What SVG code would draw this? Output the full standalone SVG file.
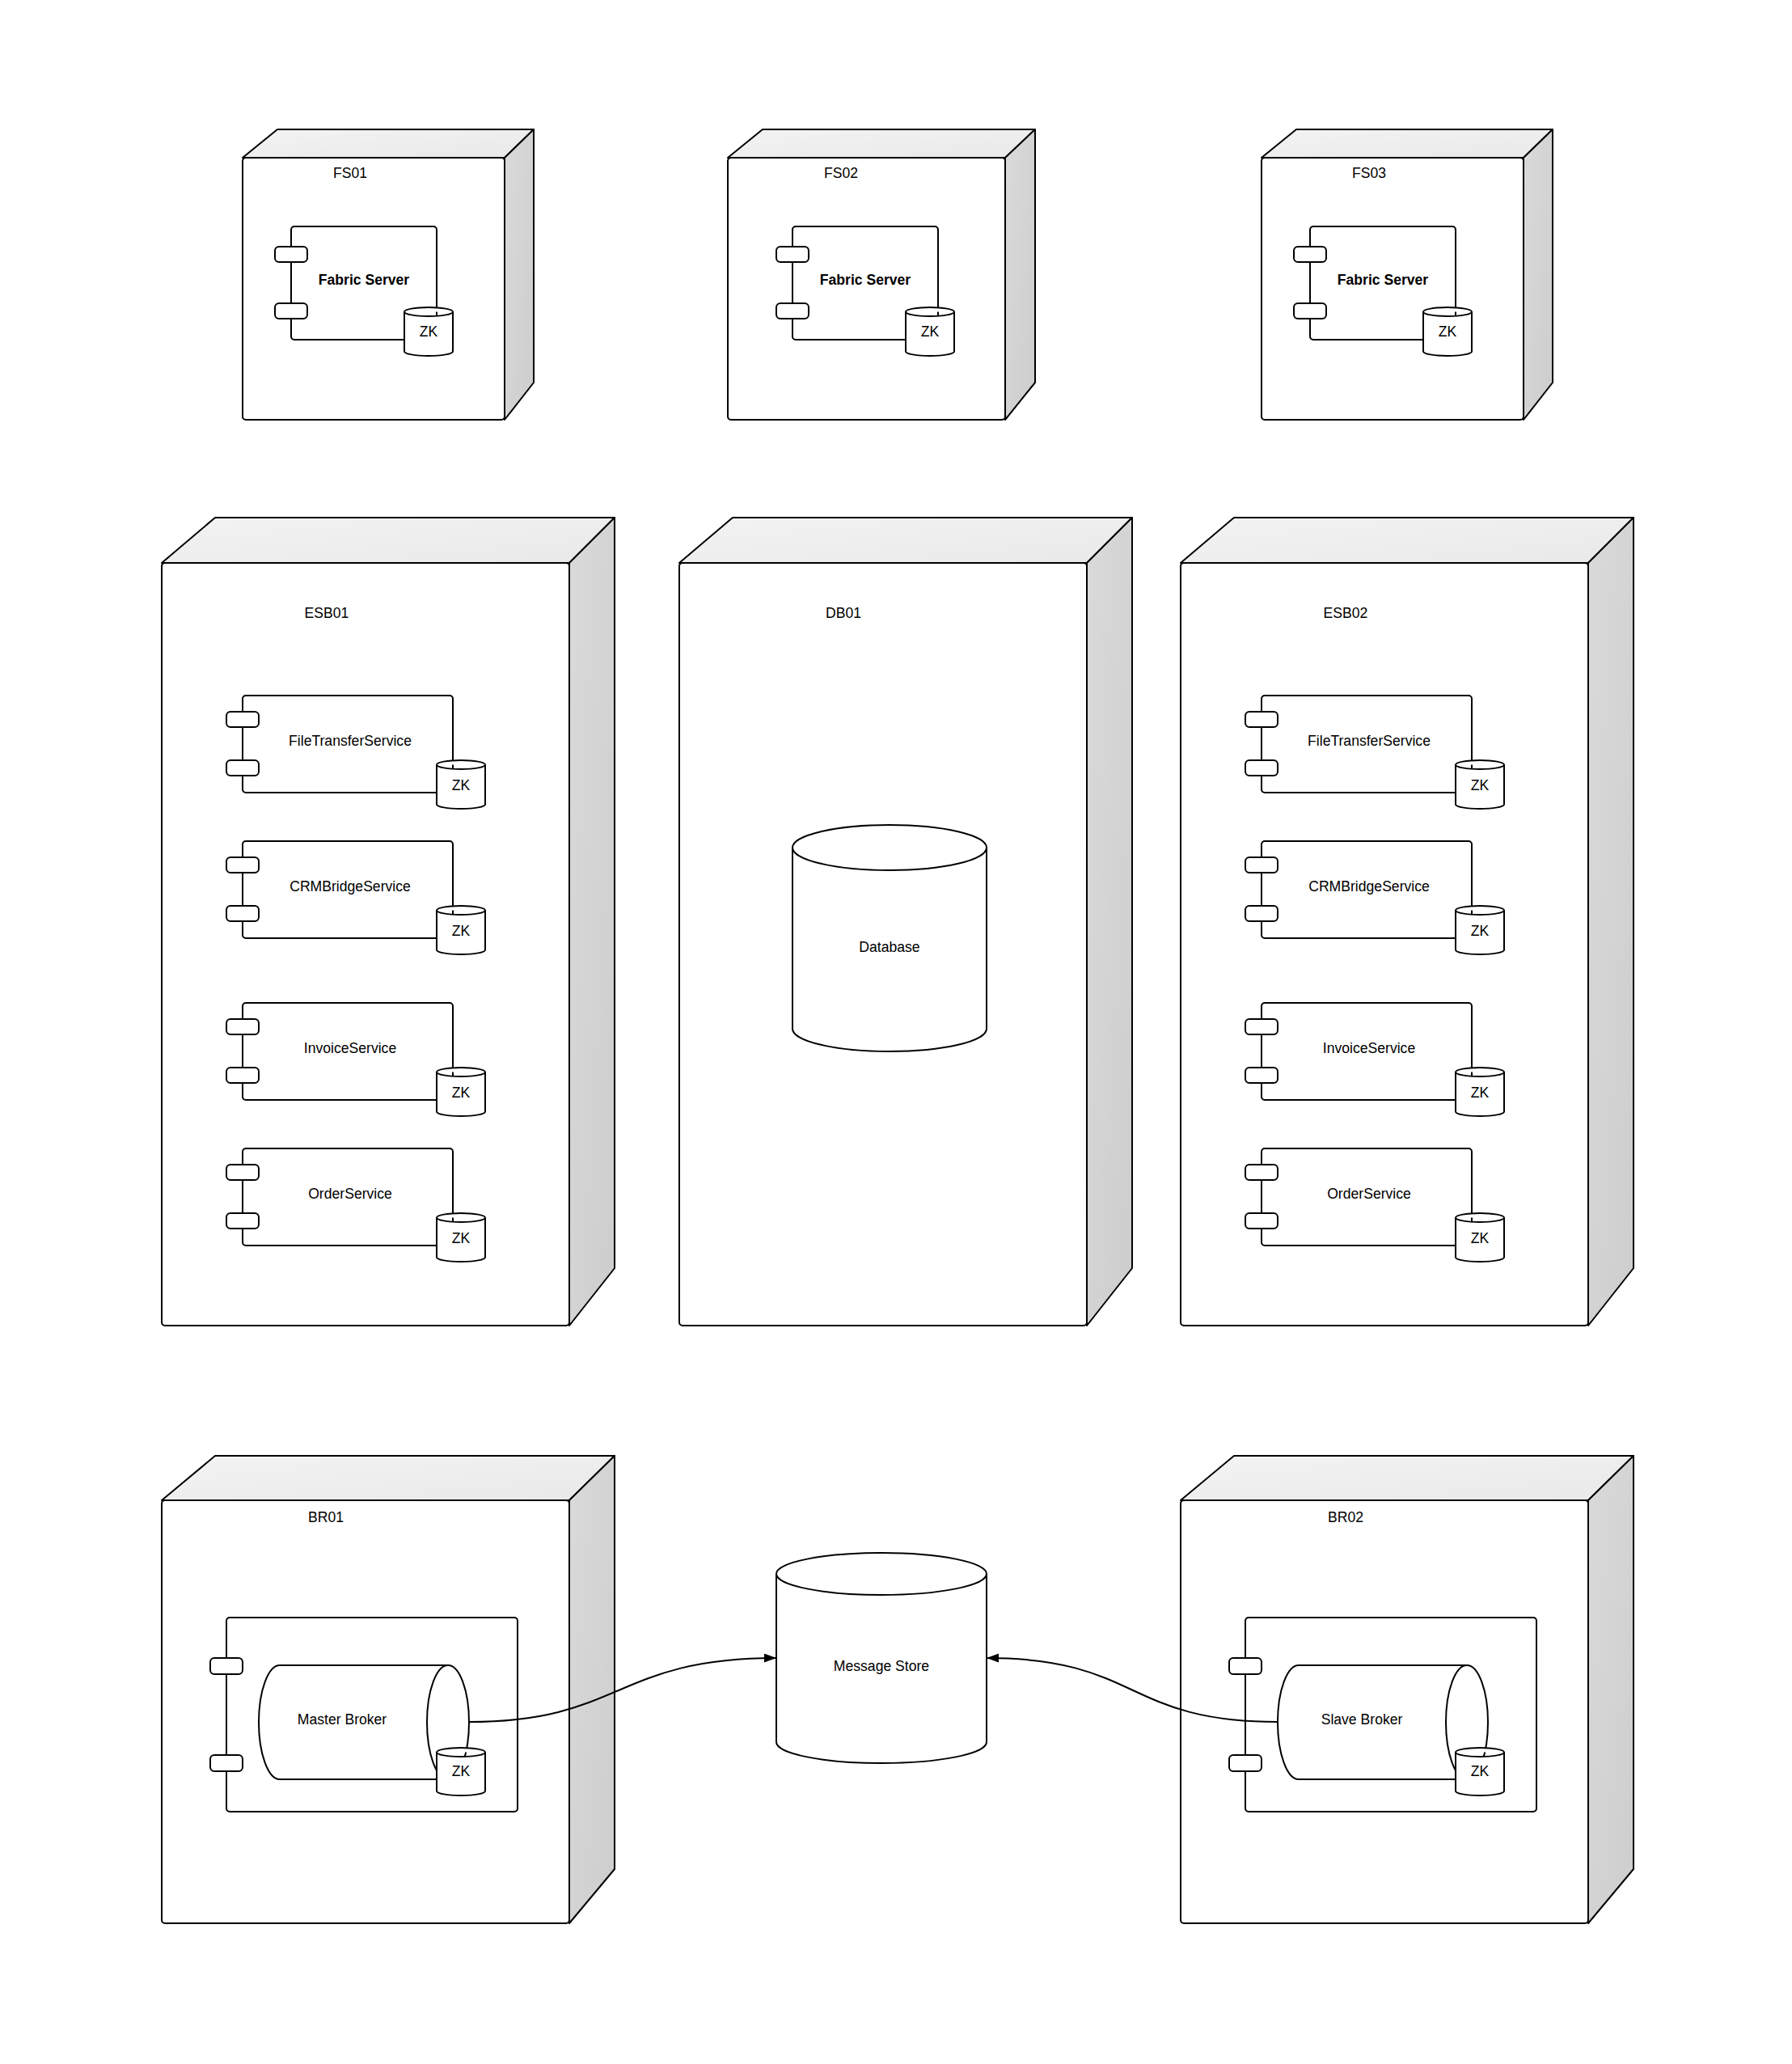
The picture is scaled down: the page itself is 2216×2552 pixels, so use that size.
<svg xmlns="http://www.w3.org/2000/svg" width="2216" height="2552" viewBox="0 0 2216 2552">
<defs>
<linearGradient id="gTop" x1="0" y1="0" x2="1" y2="1"><stop offset="0" stop-color="#f3f3f3"/><stop offset="1" stop-color="#e9e9e9"/></linearGradient>
<linearGradient id="gSide" x1="0" y1="0" x2="1" y2="1"><stop offset="0" stop-color="#dadada"/><stop offset="1" stop-color="#cdcdcd"/></linearGradient>
<marker id="arr" markerUnits="userSpaceOnUse" markerWidth="16" markerHeight="12" refX="15" refY="5.5" orient="auto"><path d="M0,0 L15,5.5 L0,11 Z" fill="#000"/></marker>
<style>
.top{fill:url(#gTop);stroke:#000;stroke-width:2;stroke-linejoin:round}
.side{fill:url(#gSide);stroke:#000;stroke-width:2;stroke-linejoin:round}
.front{fill:#fff;stroke:#000;stroke-width:2}
.comp{fill:#fff;stroke:#000;stroke-width:2}
.port{fill:#fff;stroke:#000;stroke-width:2}
.cyl{fill:#fff;stroke:#000;stroke-width:2}
.edge{fill:none;stroke:#000;stroke-width:2}
text{font-family:"Liberation Sans",Arial,sans-serif;font-size:17.6px;fill:#000;text-anchor:middle}
.b{font-weight:bold}
</style>
</defs>
<rect width="2216" height="2552" fill="#fff"/>

<!-- FS01 -->
<g id="FS01">
<polygon class="top" points="300,195 343,160 660,160 624,195"/>
<polygon class="side" points="624,195 660,160 660,473 624,519"/>
<rect class="front" x="300" y="195" width="324" height="324" rx="4"/>
<text x="433" y="220">FS01</text>
<rect class="comp" x="360" y="280" width="180" height="140" rx="4"/>
<rect class="port" x="340" y="305" width="40" height="19" rx="5"/>
<rect class="port" x="340" y="375" width="40" height="19" rx="5"/>
<text class="b" x="450" y="352">Fabric Server</text>
<path class="cyl" d="M500,385.5 A30,5.5 0 0 1 560,385.5 L560,434.5 A30,5.5 0 0 1 500,434.5 Z M500,385.5 A30,5.5 0 0 0 560,385.5"/>
<text x="530" y="416">ZK</text>
</g>

<!-- FS02 -->
<g id="FS02">
<polygon class="top" points="900,195 943,160 1280,160 1243,195"/>
<polygon class="side" points="1243,195 1280,160 1280,473 1243,519"/>
<rect class="front" x="900" y="195" width="343" height="324" rx="4"/>
<text x="1040" y="220">FS02</text>
<rect class="comp" x="980" y="280" width="180" height="140" rx="4"/>
<rect class="port" x="960" y="305" width="40" height="19" rx="5"/>
<rect class="port" x="960" y="375" width="40" height="19" rx="5"/>
<text class="b" x="1070" y="352">Fabric Server</text>
<path class="cyl" d="M1120,385.5 A30,5.5 0 0 1 1180,385.5 L1180,434.5 A30,5.5 0 0 1 1120,434.5 Z M1120,385.5 A30,5.5 0 0 0 1180,385.5"/>
<text x="1150" y="416">ZK</text>
</g>

<!-- FS03 -->
<g id="FS03">
<polygon class="top" points="1560,195 1603,160 1920,160 1884,195"/>
<polygon class="side" points="1884,195 1920,160 1920,473 1884,519"/>
<rect class="front" x="1560" y="195" width="324" height="324" rx="4"/>
<text x="1693" y="220">FS03</text>
<rect class="comp" x="1620" y="280" width="180" height="140" rx="4"/>
<rect class="port" x="1600" y="305" width="40" height="19" rx="5"/>
<rect class="port" x="1600" y="375" width="40" height="19" rx="5"/>
<text class="b" x="1710" y="352">Fabric Server</text>
<path class="cyl" d="M1760,385.5 A30,5.5 0 0 1 1820,385.5 L1820,434.5 A30,5.5 0 0 1 1760,434.5 Z M1760,385.5 A30,5.5 0 0 0 1820,385.5"/>
<text x="1790" y="416">ZK</text>
</g>

<!-- ESB01 -->
<g id="ESB01">
<polygon class="top" points="200,696 266,640 760,640 704,696"/>
<polygon class="side" points="704,696 760,640 760,1568 704,1639"/>
<rect class="front" x="200" y="696" width="504" height="943" rx="4"/>
<text x="404" y="764">ESB01</text>
<g id="ESB01-FileTransferService">
<rect class="comp" x="300" y="860" width="260" height="120" rx="4"/>
<rect class="port" x="280" y="880" width="40" height="19" rx="5"/>
<rect class="port" x="280" y="940" width="40" height="19" rx="5"/>
<text x="433" y="922">FileTransferService</text>
<path class="cyl" d="M540,945.5 A30,5.5 0 0 1 600,945.5 L600,994.5 A30,5.5 0 0 1 540,994.5 Z M540,945.5 A30,5.5 0 0 0 600,945.5"/>
<text x="570" y="977">ZK</text>
</g>
<g id="ESB01-CRMBridgeService">
<rect class="comp" x="300" y="1040" width="260" height="120" rx="4"/>
<rect class="port" x="280" y="1060" width="40" height="19" rx="5"/>
<rect class="port" x="280" y="1120" width="40" height="19" rx="5"/>
<text x="433" y="1102">CRMBridgeService</text>
<path class="cyl" d="M540,1125.5 A30,5.5 0 0 1 600,1125.5 L600,1174.5 A30,5.5 0 0 1 540,1174.5 Z M540,1125.5 A30,5.5 0 0 0 600,1125.5"/>
<text x="570" y="1157">ZK</text>
</g>
<g id="ESB01-InvoiceService">
<rect class="comp" x="300" y="1240" width="260" height="120" rx="4"/>
<rect class="port" x="280" y="1260" width="40" height="19" rx="5"/>
<rect class="port" x="280" y="1320" width="40" height="19" rx="5"/>
<text x="433" y="1302">InvoiceService</text>
<path class="cyl" d="M540,1325.5 A30,5.5 0 0 1 600,1325.5 L600,1374.5 A30,5.5 0 0 1 540,1374.5 Z M540,1325.5 A30,5.5 0 0 0 600,1325.5"/>
<text x="570" y="1357">ZK</text>
</g>
<g id="ESB01-OrderService">
<rect class="comp" x="300" y="1420" width="260" height="120" rx="4"/>
<rect class="port" x="280" y="1440" width="40" height="19" rx="5"/>
<rect class="port" x="280" y="1500" width="40" height="19" rx="5"/>
<text x="433" y="1482">OrderService</text>
<path class="cyl" d="M540,1505.5 A30,5.5 0 0 1 600,1505.5 L600,1554.5 A30,5.5 0 0 1 540,1554.5 Z M540,1505.5 A30,5.5 0 0 0 600,1505.5"/>
<text x="570" y="1537">ZK</text>
</g>
</g>

<!-- DB01 -->
<g id="DB01">
<polygon class="top" points="840,696 906,640 1400,640 1344,696"/>
<polygon class="side" points="1344,696 1400,640 1400,1568 1344,1639"/>
<rect class="front" x="840" y="696" width="504" height="943" rx="4"/>
<text x="1043" y="764">DB01</text>
<g id="Database">
<path class="cyl" d="M980,1048 A120,28 0 0 1 1220,1048 L1220,1272 A120,28 0 0 1 980,1272 Z M980,1048 A120,28 0 0 0 1220,1048"/>
<text x="1100" y="1177">Database</text>
</g>
</g>

<!-- ESB02 -->
<g id="ESB02">
<polygon class="top" points="1460,696 1526,640 2020,640 1964,696"/>
<polygon class="side" points="1964,696 2020,640 2020,1568 1964,1639"/>
<rect class="front" x="1460" y="696" width="504" height="943" rx="4"/>
<text x="1664" y="764">ESB02</text>
<g id="ESB02-FileTransferService">
<rect class="comp" x="1560" y="860" width="260" height="120" rx="4"/>
<rect class="port" x="1540" y="880" width="40" height="19" rx="5"/>
<rect class="port" x="1540" y="940" width="40" height="19" rx="5"/>
<text x="1693" y="922">FileTransferService</text>
<path class="cyl" d="M1800,945.5 A30,5.5 0 0 1 1860,945.5 L1860,994.5 A30,5.5 0 0 1 1800,994.5 Z M1800,945.5 A30,5.5 0 0 0 1860,945.5"/>
<text x="1830" y="977">ZK</text>
</g>
<g id="ESB02-CRMBridgeService">
<rect class="comp" x="1560" y="1040" width="260" height="120" rx="4"/>
<rect class="port" x="1540" y="1060" width="40" height="19" rx="5"/>
<rect class="port" x="1540" y="1120" width="40" height="19" rx="5"/>
<text x="1693" y="1102">CRMBridgeService</text>
<path class="cyl" d="M1800,1125.5 A30,5.5 0 0 1 1860,1125.5 L1860,1174.5 A30,5.5 0 0 1 1800,1174.5 Z M1800,1125.5 A30,5.5 0 0 0 1860,1125.5"/>
<text x="1830" y="1157">ZK</text>
</g>
<g id="ESB02-InvoiceService">
<rect class="comp" x="1560" y="1240" width="260" height="120" rx="4"/>
<rect class="port" x="1540" y="1260" width="40" height="19" rx="5"/>
<rect class="port" x="1540" y="1320" width="40" height="19" rx="5"/>
<text x="1693" y="1302">InvoiceService</text>
<path class="cyl" d="M1800,1325.5 A30,5.5 0 0 1 1860,1325.5 L1860,1374.5 A30,5.5 0 0 1 1800,1374.5 Z M1800,1325.5 A30,5.5 0 0 0 1860,1325.5"/>
<text x="1830" y="1357">ZK</text>
</g>
<g id="ESB02-OrderService">
<rect class="comp" x="1560" y="1420" width="260" height="120" rx="4"/>
<rect class="port" x="1540" y="1440" width="40" height="19" rx="5"/>
<rect class="port" x="1540" y="1500" width="40" height="19" rx="5"/>
<text x="1693" y="1482">OrderService</text>
<path class="cyl" d="M1800,1505.5 A30,5.5 0 0 1 1860,1505.5 L1860,1554.5 A30,5.5 0 0 1 1800,1554.5 Z M1800,1505.5 A30,5.5 0 0 0 1860,1505.5"/>
<text x="1830" y="1537">ZK</text>
</g>
</g>

<!-- BR01 -->
<g id="BR01">
<polygon class="top" points="200,1855 266,1800 760,1800 704,1855"/>
<polygon class="side" points="704,1855 760,1800 760,2311 704,2378"/>
<rect class="front" x="200" y="1855" width="504" height="523" rx="4"/>
<text x="403" y="1882">BR01</text>
<rect class="comp" x="280" y="2000" width="360" height="240" rx="4"/>
<rect class="port" x="260" y="2050" width="40" height="20" rx="5"/>
<rect class="port" x="260" y="2170" width="40" height="20" rx="5"/>
<g id="MasterBroker">
<path class="cyl" d="M346,2059 L554,2059 L554,2200 L346,2200 A26,70.5 0 0 1 346,2059 Z"/>
<ellipse class="cyl" cx="554" cy="2129.5" rx="26" ry="70.5"/>
<text x="423" y="2132">Master Broker</text>
</g>
<path class="cyl" d="M540,2166.5 A30,5.5 0 0 1 600,2166.5 L600,2214.5 A30,5.5 0 0 1 540,2214.5 Z M540,2166.5 A30,5.5 0 0 0 600,2166.5"/>
<text x="570" y="2196">ZK</text>
</g>

<!-- Message Store -->
<g id="MessageStore">
<path class="cyl" d="M960,1946 A130,26 0 0 1 1220,1946 L1220,2154 A130,26 0 0 1 960,2154 Z M960,1946 A130,26 0 0 0 1220,1946"/>
<text x="1090" y="2066">Message Store</text>
</g>

<!-- BR02 -->
<g id="BR02">
<polygon class="top" points="1460,1855 1526,1800 2020,1800 1964,1855"/>
<polygon class="side" points="1964,1855 2020,1800 2020,2311 1964,2378"/>
<rect class="front" x="1460" y="1855" width="504" height="523" rx="4"/>
<text x="1664" y="1882">BR02</text>
<rect class="comp" x="1540" y="2000" width="360" height="240" rx="4"/>
<rect class="port" x="1520" y="2050" width="40" height="20" rx="5"/>
<rect class="port" x="1520" y="2170" width="40" height="20" rx="5"/>
<g id="SlaveBroker">
<path class="cyl" d="M1606,2059 L1814,2059 L1814,2200 L1606,2200 A26,70.5 0 0 1 1606,2059 Z"/>
<ellipse class="cyl" cx="1814" cy="2129.5" rx="26" ry="70.5"/>
<text x="1684" y="2132">Slave Broker</text>
</g>
<path class="cyl" d="M1800,2166.5 A30,5.5 0 0 1 1860,2166.5 L1860,2214.5 A30,5.5 0 0 1 1800,2214.5 Z M1800,2166.5 A30,5.5 0 0 0 1860,2166.5"/>
<text x="1830" y="2196">ZK</text>
</g>

<!-- connectors -->
<g id="connectors">
<path class="edge" d="M580,2129 C770,2129 760,2050 960,2050" marker-end="url(#arr)"/>
<path class="edge" d="M1580,2129 C1390,2129 1410,2050 1220,2050" marker-end="url(#arr)"/>
</g>
</svg>
